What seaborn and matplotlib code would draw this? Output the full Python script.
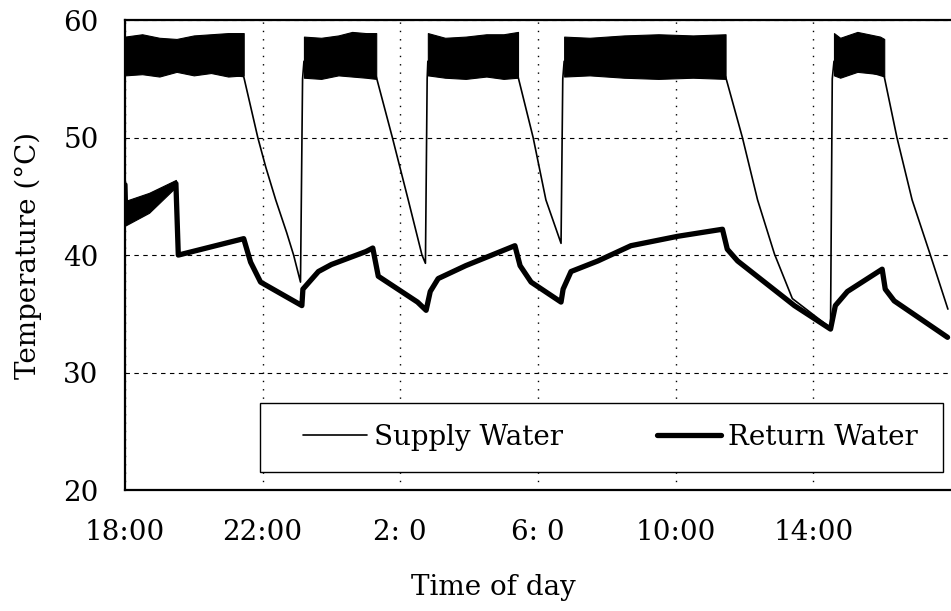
import pandas as pd
import matplotlib.pyplot as plt
import seaborn as sns
from matplotlib.patches import Rectangle

# hours after 18:00
supply_t = [0, 3.45, 3.86, 4.09, 4.38, 4.70, 4.90, 5.10, 5.16, 5.2, 7.3, 7.77, 8.23, 8.63, 8.73,
            8.78, 8.8, 11.42, 11.86, 12.23, 12.67, 12.72, 12.76, 17.45, 17.94, 18.38, 18.87,
            19.39, 20.5, 20.55, 20.6, 22.06, 22.43, 22.87, 23.39, 23.91]
supply_temp = [56.5, 55.2, 50.0, 47.5, 44.7, 41.9, 40.0, 37.7, 55.0, 56.5, 55.2, 50.0, 44.7,
               40.0, 39.3, 55.0, 56.5, 55.2, 50.0, 44.7, 41.0, 55.0, 56.5, 55.2, 50.0, 44.7,
               40.1, 36.3, 33.8, 55.0, 56.5, 55.2, 50.0, 44.7, 40.1, 35.4]

# oscillating band (upper / lower envelope) while the heater runs
band1_t = [0, 0.5, 1.0, 1.5, 2.0, 2.5, 3.0, 3.45]
band1_hi = [58.6, 58.8, 58.5, 58.4, 58.7, 58.8, 58.9, 58.9]
band1_lo = [55.3, 55.4, 55.2, 55.6, 55.3, 55.5, 55.2, 55.3]
band2_t = [5.2, 5.7, 6.2, 6.6, 7.0, 7.3]
band2_hi = [58.6, 58.5, 58.7, 59.0, 58.9, 58.9]
band2_lo = [55.1, 55.0, 55.3, 55.2, 55.1, 55.0]
band3_t = [8.8, 9.3, 9.9, 10.5, 11.0, 11.42]
band3_hi = [58.9, 58.5, 58.6, 58.8, 58.8, 59.0]
band3_lo = [55.3, 55.1, 55.0, 55.2, 55.0, 55.1]
band4_t = [12.76, 13.5, 14.5, 15.5, 16.5, 17.45]
band4_hi = [58.6, 58.5, 58.7, 58.8, 58.7, 58.8]
band4_lo = [55.2, 55.3, 55.1, 55.0, 55.1, 55.0]
band5_t = [20.6, 20.78, 21.28, 21.94, 22.06]
band5_hi = [58.9, 58.5, 59.0, 58.6, 58.4]
band5_lo = [55.3, 55.1, 55.6, 55.4, 55.2]

return_t = [0, 0.02, 0.7, 1.48, 1.55, 3.45, 3.65, 3.94, 5.14, 5.17, 5.62, 6.0, 7.0, 7.2, 7.36,
            8.5, 8.75, 8.87, 9.1, 9.9, 11.33, 11.48, 11.8, 12.67, 12.73, 12.96, 13.74, 14.7,
            16.06, 17.36, 17.5, 17.8, 19.45, 20.5, 20.64, 20.99, 22.0, 22.09, 22.35, 23.9]
return_temp = [46.0, 43.6, 44.5, 46.1, 40.0, 41.4, 39.4, 37.7, 35.7, 37.1, 38.6, 39.2, 40.3, 40.6,
               38.2, 36.0, 35.3, 36.9, 38.0, 39.1, 40.8, 39.1, 37.7, 36.0, 37.1, 38.6, 39.5, 40.8,
               41.6, 42.2, 40.5, 39.5, 35.7, 33.7, 35.7, 36.9, 38.8, 37.1, 36.1, 33.0]
return_band_t = [0, 0.7, 1.48]
return_band_hi = [44.6, 45.3, 46.4]
return_band_lo = [42.5, 43.6, 45.8]

tick_pos = [0, 4, 8, 12, 16, 20]
tick_labels = ["18:00", "22:00", "2: 0", "6: 0", "10:00", "14:00"]

sns.set_style("white")
plt.rcParams['font.family'] = ['DejaVu Serif']
plt.rcParams['text.color'] = 'black'
fs = 20

fig = plt.figure(figsize=(9.51, 6.11), dpi=100)
ax = fig.add_axes([0.1314, 0.198, 0.8686, 0.769])

supply_df = pd.DataFrame({"t": supply_t, "temp": supply_temp})
return_df = pd.DataFrame({"t": return_t, "temp": return_temp})

sns.lineplot(data=supply_df, x="t", y="temp", color="black", linewidth=1.2,
             estimator=None, sort=False, label="Supply Water", ax=ax)
sns.lineplot(data=return_df, x="t", y="temp", color="black", linewidth=3.8,
             estimator=None, sort=False, label="Return Water", ax=ax)

for bt, bhi, blo in [(band1_t, band1_hi, band1_lo), (band2_t, band2_hi, band2_lo),
                     (band3_t, band3_hi, band3_lo), (band4_t, band4_hi, band4_lo),
                     (band5_t, band5_hi, band5_lo),
                     (return_band_t, return_band_hi, return_band_lo)]:
    ax.fill_between(bt, blo, bhi, color="black", linewidth=0.8, edgecolor="black")

ax.set_xlim(0, 24)
ax.set_ylim(20, 60)
ax.set_yticks([20, 30, 40, 50, 60])
ax.set_xticks(tick_pos)
ax.set_xticklabels(tick_labels)
ax.tick_params(axis="both", length=0, labelsize=fs, colors="black")
ax.tick_params(axis="y", pad=19)
ax.tick_params(axis="x", pad=21)

ax.set_axisbelow(True)
ax.yaxis.grid(True, color="black", linestyle=(0, (4, 4)), linewidth=0.8)
ax.xaxis.grid(True, color="black", linestyle=(0, (1, 5)), linewidth=1.0)

for side in ["left", "bottom", "top"]:
    ax.spines[side].set_color("black")
    ax.spines[side].set_linewidth(1.6)
ax.spines["right"].set_visible(False)

ax.set_xlabel("Time of day", fontsize=fs, color="black")
ax.xaxis.set_label_coords((493 - 125) / 826, -0.178)
ax.set_ylabel("Temperature (\u00b0C)", fontsize=fs, color="black")
ax.yaxis.set_label_coords(-0.1, 0.5)

# legend box drawn separately so the padding matches the original
ax.add_patch(Rectangle(((260 - 125) / 826, (490 - 472) / 470), 683 / 826, 69 / 470,
                       transform=ax.transAxes, facecolor="white", edgecolor="black",
                       linewidth=1.0, zorder=4, clip_on=False))
leg = ax.legend(loc="center", ncol=2, mode="expand", fontsize=fs, frameon=False,
                bbox_to_anchor=((303 - 125) / 826, (490 - 472) / 470, (918 - 303) / 826, 69 / 470),
                handlelength=2.3, handletextpad=0.25, borderpad=0, borderaxespad=0)
for txt in leg.get_texts():
    txt.set_color("black")
leg.set_zorder(5)

plt.savefig("out.png", dpi=100)
